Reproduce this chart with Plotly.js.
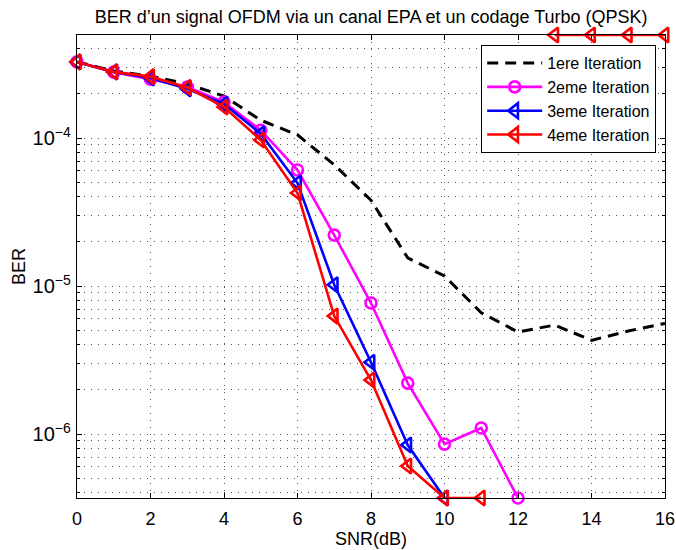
<!DOCTYPE html>
<html><head><meta charset="utf-8">
<script src="https://cdn.plot.ly/plotly-3.0.1.min.js"></script>
<style>html,body{margin:0;padding:0;background:#fff}</style>
</head><body>
<div id="chart" style="width:676px;height:550px"></div>
<script>
const snr = [0,1,2,3,4,5,6,7,8,9,10,11,12,13,14,15,16];
const iter1 = [3.27e-4,2.84e-4,2.62e-4,2.32e-4,1.92e-4,1.32e-4,1.05e-4,6.6e-5,3.8e-5,1.55e-5,1.17e-5,6.6e-6,4.9e-6,5.45e-6,4.3e-6,4.97e-6,5.6e-6];
const iter2 = [3.27e-4,2.79e-4,2.5e-4,2.21e-4,1.75e-4,1.13e-4,6.08e-5,2.21e-5,7.68e-6,2.21e-6,8.56e-7,1.10e-6,3.7e-7];
const iter3 = [3.27e-4,2.8e-4,2.55e-4,2.15e-4,1.7e-4,1.07e-4,4.97e-5,1.02e-5,3.06e-6,8.43e-7,3.7e-7];
const iter4 = [3.27e-4,2.8e-4,2.6e-4,2.2e-4,1.62e-4,9.7e-5,4.25e-5,6.27e-6,2.32e-6,6.08e-7,3.7e-7,3.7e-7,null,4.97e-4,4.97e-4,4.97e-4,4.97e-4];
const names = ['1ere Iteration','2eme Iteration','3eme Iteration','4eme Iteration'];
const xTicks = [0,2,4,6,8,10,12,14,16];

const yMin = 3.7e-7, yMax = 4.97e-4;

const traces = [
  {x: snr, y: iter1, name: names[0], mode: 'lines', cliponaxis: false,
   line: {color: '#000000', width: 3, dash: '11px,7px'}},
  {x: snr.slice(0, iter2.length), y: iter2, name: names[1], mode: 'lines+markers', cliponaxis: false,
   line: {color: '#ff00ff', width: 2.6},
   marker: {symbol: 'circle-open', size: 11, color: '#ff00ff', line: {width: 2.6, color: '#ff00ff'}}},
  {x: snr.slice(0, iter3.length), y: iter3, name: names[2], mode: 'lines+markers', cliponaxis: false,
   line: {color: '#0000ff', width: 2.6},
   marker: {symbol: 'triangle-left-open', size: 13, color: '#0000ff', line: {width: 2.6, color: '#0000ff'}}},
  {x: snr, y: iter4, name: names[3], mode: 'lines+markers', cliponaxis: false, connectgaps: false,
   line: {color: '#ff0000', width: 2.6},
   marker: {symbol: 'triangle-left-open', size: 13, color: '#ff0000', line: {width: 2.6, color: '#ff0000'}}}
];

const gridCol = '#555555';
const gridDash = '1px,6px';
const layout = {
  width: 676, height: 550,
  margin: {l: 77, r: 11, t: 35, b: 52},
  paper_bgcolor: '#ffffff', plot_bgcolor: '#ffffff',
  font: {family: 'Liberation Sans, Arial, sans-serif', size: 16, color: '#000000'},
  title: {text: "BER d\u2019un signal OFDM via un canal EPA et un codage Turbo (QPSK)",
          x: 0.549, xanchor: 'center', y: 0.969, yanchor: 'middle', font: {size: 18}},
  xaxis: {
    range: [0, 16], tickvals: xTicks, ticktext: xTicks.map(String),
    showline: true, linecolor: '#000', linewidth: 1, mirror: 'allticks',
    ticks: 'inside', ticklen: 5, tickcolor: '#000', ticklabelstandoff: 4,
    tickfont: {size: 18},
    showgrid: true, gridcolor: gridCol, griddash: gridDash, gridwidth: 1,
    zeroline: false,
    title: {text: 'SNR(dB)', standoff: 2, font: {size: 18}}
  },
  yaxis: {
    type: 'log', range: [Math.log10(yMin), Math.log10(yMax)],
    dtick: 1, exponentformat: 'power',
    showline: true, linecolor: '#000', linewidth: 1, mirror: 'allticks',
    ticks: 'inside', ticklen: 5, tickcolor: '#000', ticklabelstandoff: 2,
    tickfont: {size: 16},
    showgrid: true, gridcolor: gridCol, griddash: gridDash, gridwidth: 1,
    minor: {dtick: 'D1', showgrid: true, gridcolor: gridCol, griddash: gridDash, gridwidth: 1,
            ticks: 'inside', ticklen: 3, tickcolor: '#000'},
    zeroline: false,
    title: {text: 'BER', standoff: 2, font: {size: 18}}
  },
  legend: {
    x: 0.985, xanchor: 'right', y: 0.978, yanchor: 'top',
    bgcolor: '#ffffff', bordercolor: '#000000', borderwidth: 1,
    font: {size: 16}, itemwidth: 55, tracegroupgap: 0
  },
  showlegend: true
};

Plotly.newPlot('chart', traces, layout, {displayModeBar: false, staticPlot: true});
</script>
</body></html>
